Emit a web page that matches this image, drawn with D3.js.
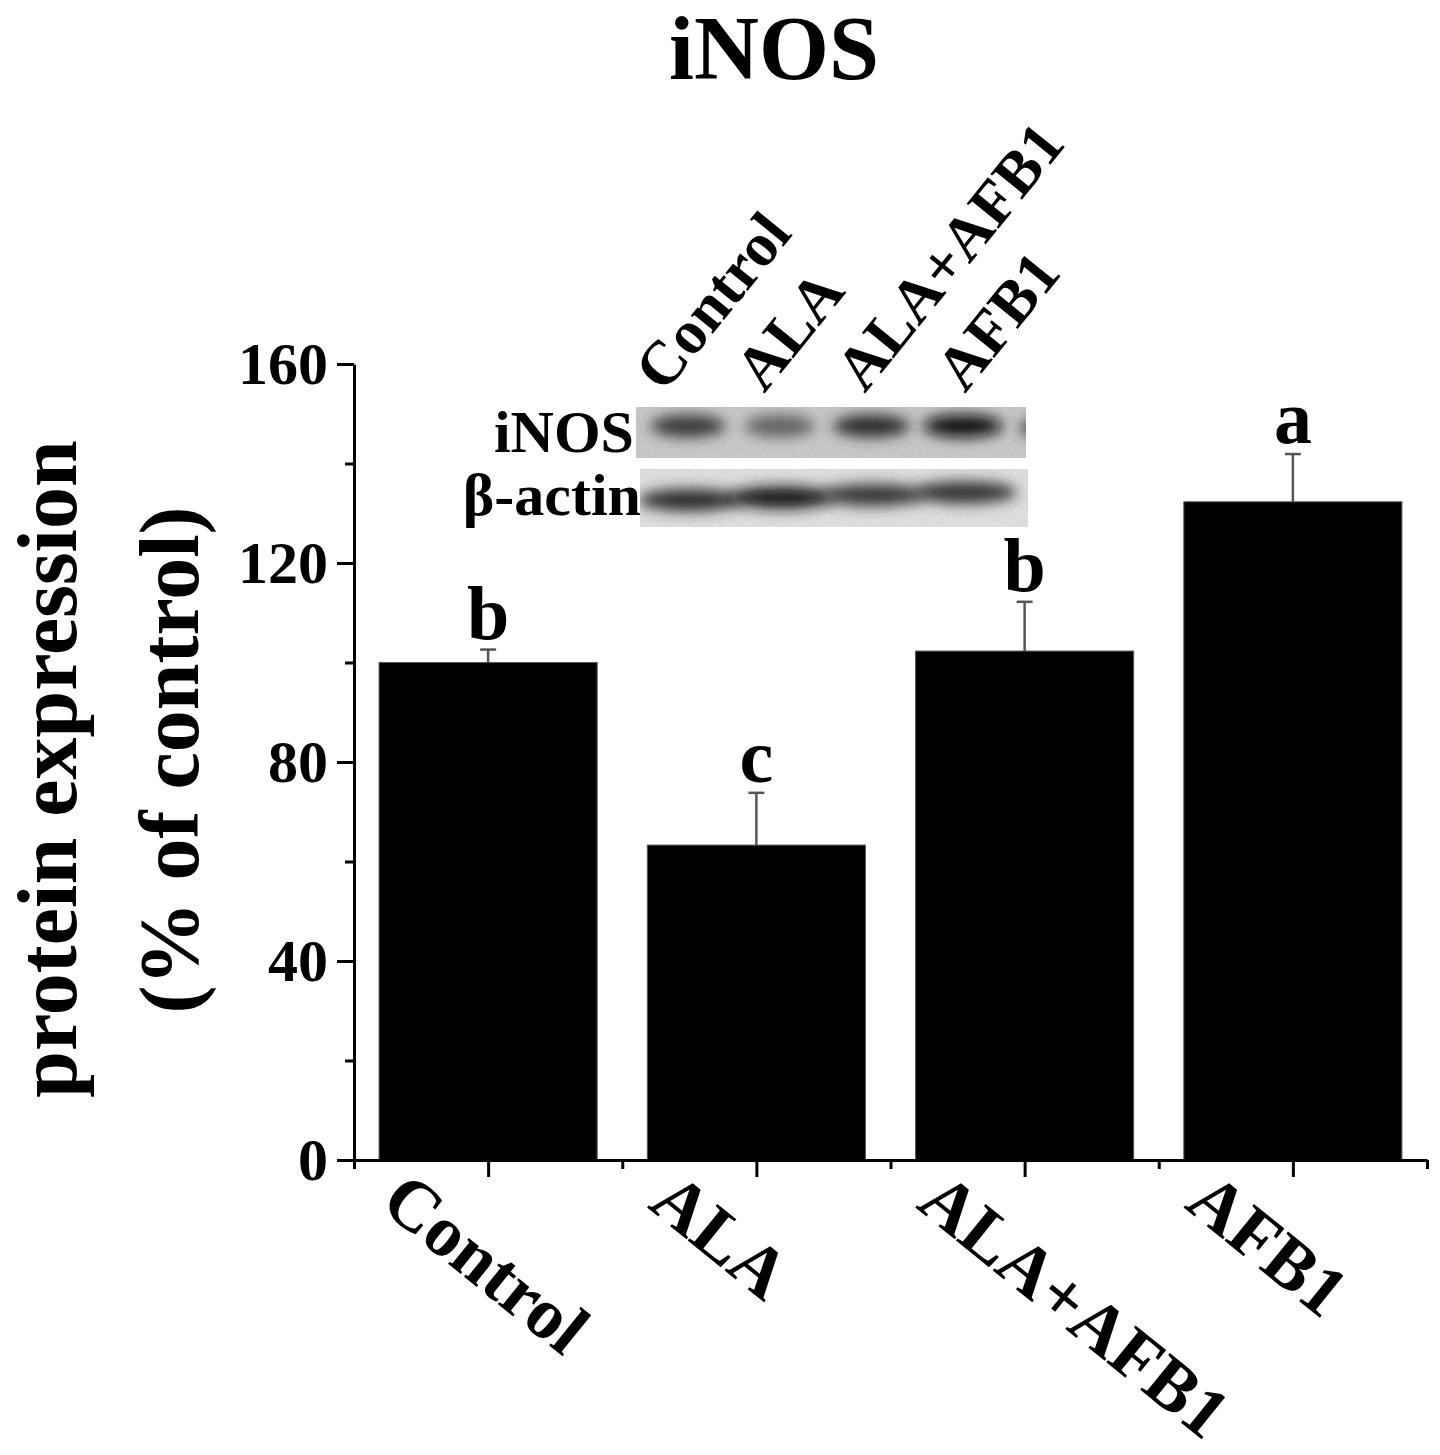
<!DOCTYPE html>
<html>
<head>
<meta charset="utf-8">
<script src="https://cdn.jsdelivr.net/npm/d3@7"></script>
<style>
  body { margin: 0; background: #fff; }
  text { font-family: "Liberation Serif", "Times New Roman", serif; font-weight: bold; fill: #000; }
</style>
</head>
<body>
<div id="chart"></div>
<script>
// data
var categories = ["Control", "ALA", "ALA+AFB1", "AFB1"];
var means = [100, 63.3, 102.3, 132.3];
var errors = [2.6, 10.5, 9.9, 9.6];
var letters = ["b", "c", "b", "a"];
var yTicks = [0, 40, 80, 120, 160];
var yMinorTicks = [20, 60, 100, 140];
var xMinorTicks = [0.5, 1.5, 2.5, 3.5, 4.5];

// western blot inset (relative band darkness per lane)
var blotLanes = ["Control", "ALA", "ALA+AFB1", "AFB1"];
var inosBands = [0.78, 0.55, 0.85, 1.0];
var actinBands = [0.85, 0.95, 0.8, 0.82];

var svgWidth = 1440;
var svgHeight = 1455;

var svg = d3.select("#chart")
  .append("svg")
    .attr("width", svgWidth)
    .attr("height", svgHeight);

var xScale = d3.scaleLinear().domain([0.5, 4.5]).range([354, 1427]);
var yScale = d3.scaleLinear().domain([0, 160]).range([1160, 364]);
var barW = 0.813;

// title
svg.append("text")
  .attr("x", 774).attr("y", 79)
  .attr("text-anchor", "middle")
  .style("font-size", "90px")
  .text("iNOS");

// bars
svg.selectAll("rect.bar")
  .data(means)
  .enter()
  .append("rect")
    .attr("class", "bar")
    .attr("x", (d, i) => xScale(i + 1 - barW / 2))
    .attr("width", xScale(barW) - xScale(0))
    .attr("y", d => yScale(d))
    .attr("height", d => yScale(0) - yScale(d))
    .attr("fill", "#000")
    .attr("stroke", "#555")
    .attr("stroke-width", 1);

// error bars (upper only)
var eb = svg.append("g").attr("stroke", "#555").attr("stroke-width", 2.5);
means.forEach(function(m, i) {
  var cx = xScale(i + 1);
  eb.append("line")
    .attr("x1", cx).attr("x2", cx)
    .attr("y1", yScale(m)).attr("y2", yScale(m + errors[i]));
  eb.append("line")
    .attr("x1", cx - 8).attr("x2", cx + 8)
    .attr("y1", yScale(m + errors[i])).attr("y2", yScale(m + errors[i]));
});

// significance letters
svg.selectAll("text.sig")
  .data(letters)
  .enter()
  .append("text")
    .attr("class", "sig")
    .attr("x", (d, i) => xScale(i + 1))
    .attr("y", (d, i) => yScale(means[i] + errors[i]) - 11)
    .attr("text-anchor", "middle")
    .style("font-size", "76px")
    .text(d => d);

// y axis
var yAxis = svg.append("g")
  .attr("transform", "translate(354,0)")
  .call(d3.axisLeft(yScale).tickValues(yTicks).tickSize(17).tickSizeOuter(0).tickPadding(9));
svg.append("g")
  .attr("transform", "translate(354,0)")
  .call(d3.axisLeft(yScale).tickValues(yMinorTicks).tickSize(9).tickSizeOuter(0).tickFormat(""))
  .select(".domain").remove();
yAxis.selectAll("text")
  .style("font-size", "60px")
  .style("font-family", "'Liberation Serif', serif")
  .style("font-weight", "bold");

// x axis
svg.append("g")
  .attr("transform", "translate(0,1160)")
  .call(d3.axisBottom(xScale).tickValues([1, 2, 3, 4]).tickSize(17).tickSizeOuter(0).tickFormat(""));
svg.append("g")
  .attr("transform", "translate(0,1160)")
  .call(d3.axisBottom(xScale).tickValues(xMinorTicks).tickSize(9).tickSizeOuter(0).tickFormat(""))
  .select(".domain").remove();

svg.selectAll(".domain, .tick line")
  .attr("stroke", "#000")
  .attr("stroke-width", 3);

// rotated category labels
svg.selectAll("text.xlab")
  .data(categories)
  .enter()
  .append("text")
    .attr("class", "xlab")
    .attr("text-anchor", "start")
    .attr("transform", (d, i) => "translate(" + (xScale(i + 1) - 110) + ",1207) rotate(39)")
    .style("font-size", "72px")
    .text(d => d);

// y label
svg.append("text")
  .attr("transform", "translate(76,769) rotate(-90)")
  .attr("text-anchor", "middle")
  .style("font-size", "84px")
  .text("protein expression");
svg.append("text")
  .attr("transform", "translate(198,760) rotate(-90)")
  .attr("text-anchor", "middle")
  .style("font-size", "84px")
  .text("(% of control)");

// ---- blot inset ----
var defs = svg.append("defs");
defs.append("filter").attr("id", "blur")
  .attr("x", "-50%").attr("y", "-80%").attr("width", "200%").attr("height", "260%")
  .append("feGaussianBlur").attr("stdDeviation", 7);
var grain = defs.append("filter").attr("id", "grain");
grain.append("feTurbulence").attr("type", "fractalNoise")
  .attr("baseFrequency", 0.35).attr("numOctaves", 2).attr("seed", 4);
grain.append("feColorMatrix").attr("type", "saturate").attr("values", 0);

var clipA = defs.append("clipPath").attr("id", "clipInos");
clipA.append("rect").attr("x", 636).attr("y", 407).attr("width", 390).attr("height", 51);
var clipB = defs.append("clipPath").attr("id", "clipActin");
clipB.append("rect").attr("x", 640).attr("y", 469).attr("width", 388).attr("height", 58);

var laneX = d3.scalePoint().domain(blotLanes).range([688, 963]);
var dark = d3.scaleLinear().domain([0, 1]).range([200, 15]);

// iNOS strip
var gA = svg.append("g").attr("clip-path", "url(#clipInos)");
gA.append("rect").attr("x", 636).attr("y", 407).attr("width", 390).attr("height", 51).attr("fill", "#c8c8c8");
gA.append("rect").attr("x", 636).attr("y", 407).attr("width", 390).attr("height", 51)
  .attr("filter", "url(#grain)").attr("opacity", 0.25);
gA.selectAll("ellipse")
  .data(inosBands)
  .enter()
  .append("ellipse")
    .attr("cx", (d, i) => laneX(blotLanes[i]))
    .attr("cy", 426)
    .attr("rx", (d, i) => 30 + 10 * d)
    .attr("ry", 11)
    .attr("fill", d => { var v = Math.round(dark(d)); return "rgb(" + v + "," + v + "," + v + ")"; })
    .attr("filter", "url(#blur)");
gA.append("ellipse").attr("cx", 1030).attr("cy", 428).attr("rx", 10).attr("ry", 9)
  .attr("fill", "#444").attr("filter", "url(#blur)");

// beta-actin strip
var gB = svg.append("g").attr("clip-path", "url(#clipActin)");
gB.append("rect").attr("x", 640).attr("y", 469).attr("width", 388).attr("height", 58).attr("fill", "#e0e0e0");
gB.append("rect").attr("x", 640).attr("y", 469).attr("width", 388).attr("height", 58)
  .attr("filter", "url(#grain)").attr("opacity", 0.18);
gB.selectAll("ellipse")
  .data(actinBands)
  .enter()
  .append("ellipse")
    .attr("cx", (d, i) => laneX(blotLanes[i]) + 2)
    .attr("cy", (d, i) => 500 - i * 2.5)
    .attr("rx", 52)
    .attr("ry", 11)
    .attr("fill", d => { var v = Math.round(dark(d)); return "rgb(" + v + "," + v + "," + v + ")"; })
    .attr("filter", "url(#blur)");

svg.append("text")
  .attr("x", 634).attr("y", 452)
  .attr("text-anchor", "end")
  .style("font-size", "60px")
  .text("iNOS");
svg.append("text")
  .attr("x", 641).attr("y", 515)
  .attr("text-anchor", "end")
  .style("font-size", "60px")
  .text("β-actin");

// lane labels above blot
var laneLabX = d3.scalePoint().domain(blotLanes).range([664, 965]);
svg.selectAll("text.lane")
  .data(blotLanes)
  .enter()
  .append("text")
    .attr("class", "lane")
    .attr("text-anchor", "start")
    .attr("transform", d => "translate(" + laneLabX(d) + ",394) rotate(-51)")
    .style("font-size", "62px")
    .text(d => d);
</script>
</body>
</html>
